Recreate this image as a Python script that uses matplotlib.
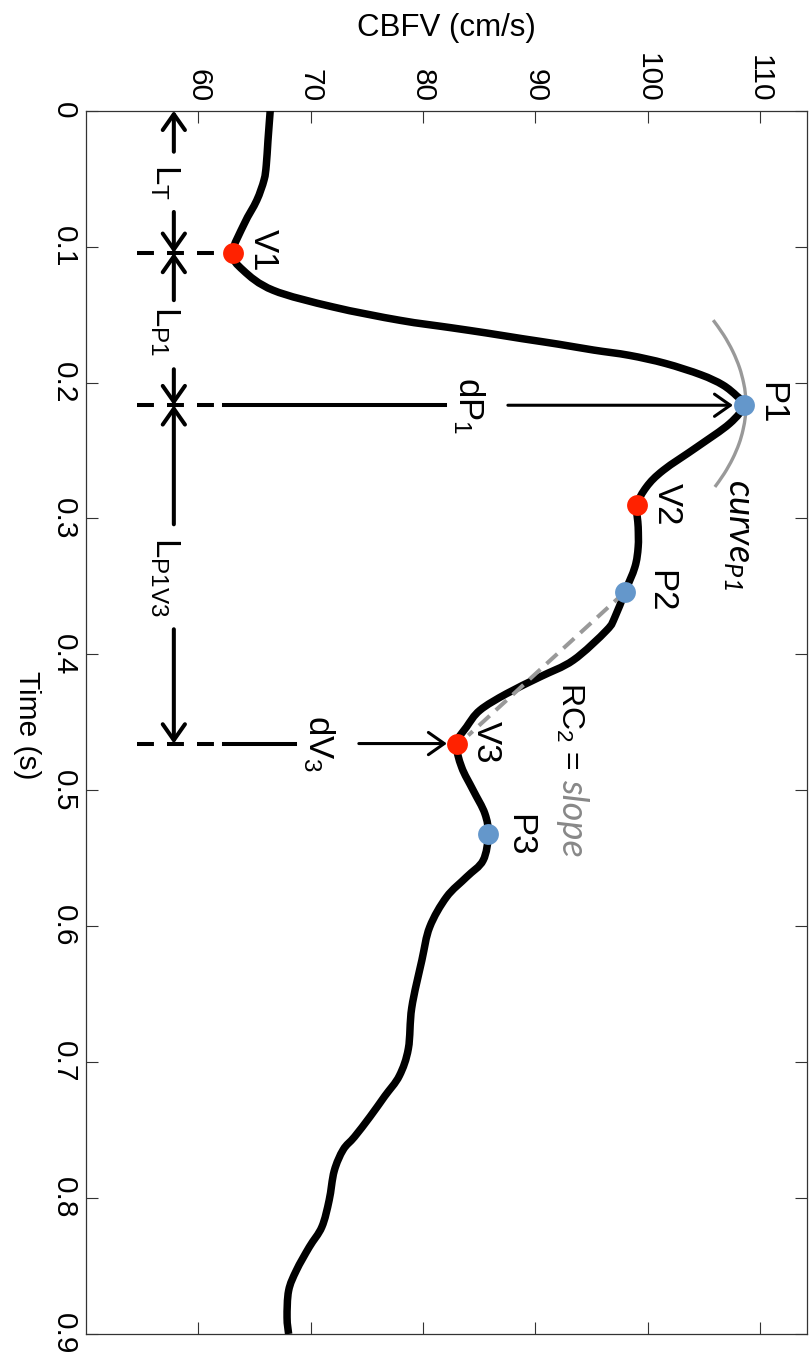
import matplotlib.pyplot as plt
import numpy as np
from matplotlib.path import Path
from matplotlib.patches import PathPatch

plt.rcParams['font.family'] = ['Liberation Sans', 'DejaVu Sans']
plt.rcParams['lines.scale_dashes'] = False

# CBFV waveform (time in s, velocity in cm/s)
time = [0.000, 0.022, 0.040, 0.051, 0.066, 0.083, 0.1046, 0.1174, 0.1321, 0.1444,
        0.1542, 0.1596, 0.1635, 0.1677, 0.1717, 0.1761, 0.1800, 0.1859, 0.1943, 0.2017,
        0.2100, 0.2167, 0.2302, 0.2474, 0.2645, 0.2768, 0.2903, 0.3063, 0.321, 0.3357,
        0.3541, 0.3725, 0.3823, 0.4043, 0.4166, 0.4289, 0.4411, 0.4534, 0.4656, 0.4829,
        0.500, 0.5171, 0.5324, 0.5515, 0.5638, 0.5785, 0.6006, 0.6251, 0.660, 0.690,
        0.710, 0.725, 0.740, 0.755, 0.7644, 0.780, 0.8015, 0.8212, 0.836, 0.8532,
        0.8681, 0.8878, 0.900]
cbfv = [66.4, 66.2, 66.05, 65.85, 65.2, 64.1, 63.05, 63.99, 66.66, 72.0,
        77.94, 82.44, 85.63, 88.82, 92.0, 95.19, 98.38, 101.57, 104.75, 106.68,
        107.95, 108.6, 107.3, 104.4, 101.4, 99.9, 99.07, 99.16, 99.16, 98.87,
        97.98, 97.09, 96.35, 93.38, 90.41, 87.44, 85.07, 83.88, 82.99, 83.44,
        84.47, 85.51, 85.81, 85.36, 83.88, 82.10, 80.6, 79.9, 79.0, 78.7,
        77.9, 76.6, 75.3, 73.9, 72.9, 72.1, 71.65, 71.0, 69.88, 68.73,
        68.04, 67.9, 68.04]

# landmarks
valley_names = ['V1', 'V2', 'V3']
valley_t = [0.1046, 0.2903, 0.4656]
valley_v = [63.05, 99.07, 82.99]
peak_names = ['P1', 'P2', 'P3']
peak_t = [0.2167, 0.3541, 0.5324]
peak_v = [108.6, 97.98, 85.81]

valley_label_v = [65.83, 101.76, 85.6]
valley_label_t = [0.1026, 0.2896, 0.4647]
peak_label_v = [111.07, 101.14, 88.63]
peak_label_t = [0.2152, 0.3536, 0.5331]

# curvature arc around P1
arc_t = [0.1541, 0.165, 0.177, 0.189, 0.200, 0.2083, 0.2167, 0.225, 0.235, 0.245,
         0.256, 0.267, 0.2768]
arc_v = [105.84, 106.77, 107.58, 108.18, 108.54, 108.70, 108.75, 108.70, 108.49, 108.14,
         107.57, 106.82, 105.99]

# RC2 slope line (P2 -> V3)
slope_t = [0.3541, 0.4596]
slope_v = [97.98, 84.03]

# level lines: t, end of solid part, start and tip of arrow, label
level_t = [0.1046, 0.2167, 0.4656]
dash_v = [54.5, 61.5]
solid_end = [None, 81.95, 68.6]
arrow_start = [None, 87.56, 74.29]
arrow_tip = [None, 107.6, 82.13]
level_text = [None, r'$\mathregular{dP_1}$', r'$\mathregular{dV_3}$']
level_text_v = [None, 84.09, 70.69]

# latency arrows on the left
lat_v = 57.82
lat_tops = [0.0, 0.1046, 0.2167]
lat_bottoms = [0.1046, 0.2167, 0.4656]
lat_tail_up = [0.0302, 0.1394, 0.3043]
lat_tail_down = [0.0745, 0.1902, 0.3815]
lat_text = [r'$\mathregular{L_T}$', r'$\mathregular{L_{P1}}$', r'$\mathregular{L_{P1V3}}$']
lat_text_t = [0.0522, 0.1623, 0.3429]

x_ticks = [60, 70, 80, 90, 100, 110]
t_ticks = [0, 0.1, 0.2, 0.3, 0.4, 0.5, 0.6, 0.7, 0.8, 0.9]
t_labels = ['0', '0.1', '0.2', '0.3', '0.4', '0.5', '0.6', '0.7', '0.8', '0.9']

red = '#ff2200'
blue = '#6497cb'
grey = '#999999'
narrow = ['Liberation Sans Narrow', 'Liberation Sans']


def smooth_path(xs, ys):
    # Catmull-Rom through the read points, drawn as cubic Bezier segments
    p = np.column_stack([xs, ys])
    verts = [p[0]]
    codes = [Path.MOVETO]
    n = len(p)
    for i in range(n - 1):
        p0 = p[max(i - 1, 0)]
        p1, p2 = p[i], p[i + 1]
        p3 = p[min(i + 2, n - 1)]
        verts += [p1 + (p2 - p0) / 6, p2 - (p3 - p1) / 6, p2]
        codes += [Path.CURVE4] * 3
    return Path(verts, codes)


fig = plt.figure(figsize=(8.09, 13.59), dpi=100)
ax = fig.add_axes([86 / 809, 25 / 1359, 721 / 809, 1223.3 / 1359])

ax.add_patch(PathPatch(smooth_path(cbfv, time), fc='none', ec='k', lw=5.4,
                       capstyle='butt', joinstyle='round', zorder=3))
ax.add_patch(PathPatch(smooth_path(arc_v, arc_t), fc='none', ec=grey, lw=2.4, zorder=2))
ax.plot(slope_v, slope_t, color=grey, lw=2.9, dashes=(10.5, 6), zorder=4)

for i, t in enumerate(level_t):
    ax.plot(dash_v, [t, t], color='k', lw=2.9, dashes=(12.2, 9.4), zorder=2)
    if solid_end[i] is not None:
        ax.plot([dash_v[1] + 0.8, solid_end[i]], [t, t], color='k', lw=2.9, zorder=2)
        ax.annotate('', xy=(arrow_tip[i], t), xytext=(arrow_start[i], t),
                    arrowprops=dict(arrowstyle='->,head_length=0.57,head_width=0.4',
                                    lw=2.2, color='k', shrinkA=0, shrinkB=0,
                                    mutation_scale=20), zorder=2)
        ax.text(level_text_v[i], t, level_text[i], rotation=-90, fontsize=25,
                ha='center', va='center')

for i in range(3):
    for tip, tail in [(lat_tops[i], lat_tail_up[i]), (lat_bottoms[i], lat_tail_down[i])]:
        ax.annotate('', xy=(lat_v, tip), xytext=(lat_v, tail),
                    arrowprops=dict(arrowstyle='->,head_length=0.57,head_width=0.4',
                                    lw=2.9, color='k', shrinkA=0, shrinkB=0,
                                    mutation_scale=20), zorder=2)
    ax.text(lat_v - 0.8, lat_text_t[i], lat_text[i], rotation=-90, fontsize=25,
            ha='center', va='center')

ax.plot(valley_v, valley_t, 'o', color=red, ms=15, mew=0, zorder=5)
ax.plot(peak_v, peak_t, 'o', color=blue, ms=15, mew=0, zorder=5)

for name, v, t in zip(valley_names, valley_label_v, valley_label_t):
    ax.text(v, t, name, rotation=-90, fontsize=25, ha='center', va='center', family=narrow)
for name, v, t in zip(peak_names, peak_label_v, peak_label_t):
    ax.text(v, t, name, rotation=-90, fontsize=25, ha='center', va='center', family=narrow)

ax.text(108.04, 0.3116, r'$\mathregular{curve_{P1}}$', rotation=-90, fontsize=26,
        ha='center', va='center', family='Lato', style='italic')
ax.text(92.28, 0.4203, r'$\mathregular{RC_2}$ =', rotation=-90, fontsize=23,
        ha='left', va='baseline', rotation_mode='anchor', family=narrow)
ax.text(92.4, 0.4915, 'slope', rotation=-90, fontsize=26, color='#888888',
        ha='left', va='baseline', rotation_mode='anchor', family='Lato', style='italic')

ax.set_xlim(50, 114.19)
ax.set_ylim(0.9, 0)
ax.set_xticks(x_ticks)
ax.set_yticks(t_ticks)
ax.set_yticklabels(t_labels)
ax.tick_params(direction='in', length=8.6, width=0.8, color='0.2', labelsize=21.5,
               top=True, bottom=True, left=True, right=True,
               labeltop=True, labelbottom=False, labelrotation=-90, pad=6)
for lab in ax.get_yticklabels():
    lab.set_va('center')
for s in ax.spines.values():
    s.set_color('0.2')
    s.set_linewidth(0.9)

fig.text(446 / 809, 1 - 28 / 1359, 'CBFV (cm/s)', fontsize=22.5, ha='center', va='center')
fig.text(27 / 809, 1 - 725 / 1359, 'Time (s)', fontsize=21.5, ha='center', va='center',
         rotation=-90)

fig.savefig('out.png', dpi=100)
